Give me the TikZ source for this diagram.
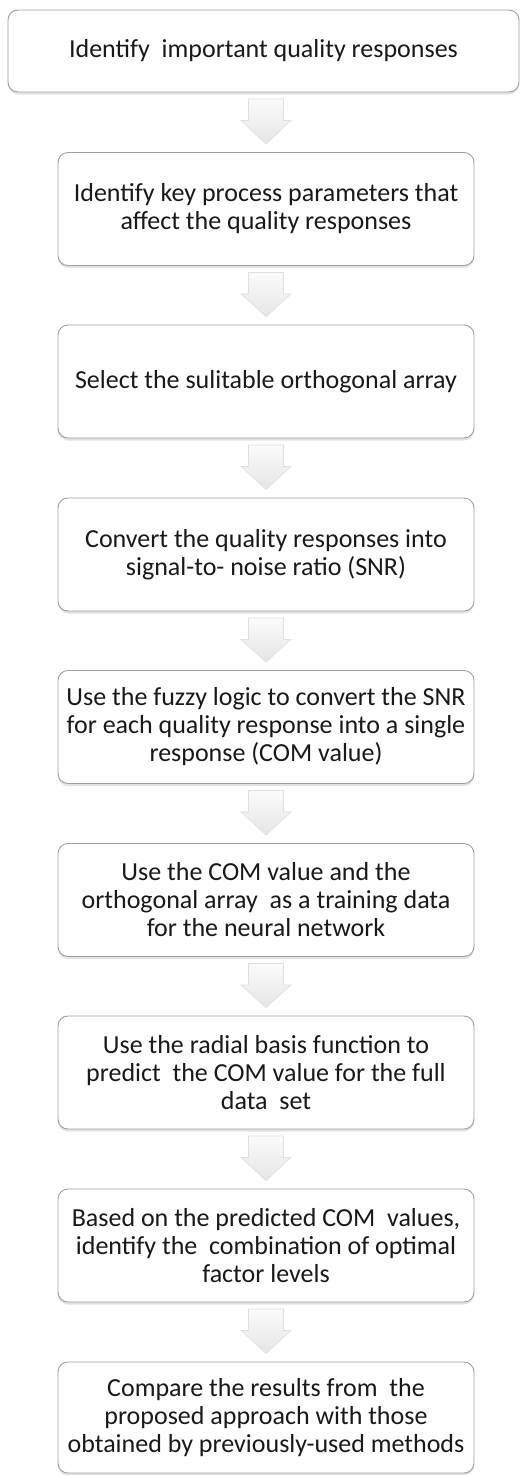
\documentclass[tikz,border=0pt]{standalone}
\usepackage{fontspec}
\setmainfont{Carlito}
\usetikzlibrary{shadows,calc}
\tikzset{
  stepbox/.style={draw=gray!75, line width=0.9pt, fill=white, rounded corners=10pt,
    minimum width=416pt, minimum height=113pt, align=center, text=black!90,
    font=\fontsize{26}{28}\selectfont, inner sep=0pt,
    drop shadow={shadow xshift=0pt, shadow yshift=-2.5pt, opacity=0.22}},
  blockarrow/.style={draw=gray!25, line width=0.6pt, top color=gray!3, bottom color=gray!20},
}
\newcommand{\flowarr}[2]{%
  \path[blockarrow] ($(#1.south -| #2.north)+(-17.5,6.5)$) -- ($(#1.south -| #2.north)+(17.5,6.5)$)
    -- ($(#1.south -| #2.north)+(17.5,28)$) -- ($(#1.south -| #2.north)+(25,28)$)
    -- ($(#2.north)+(0,-8)$)
    -- ($(#1.south -| #2.north)+(-25,28)$) -- ($(#1.south -| #2.north)+(-17.5,28)$) -- cycle;}
\begin{document}
\begin{tikzpicture}[x=1pt,y=-1pt]
\useasboundingbox (0,0) rectangle (520,1475);
\node[stepbox, minimum width=511pt, minimum height=82pt] (b1) at (263.5,51) {Identify\ \ important quality responses};
\node[stepbox] (b2) at (266,209) {Identify key process parameters that\\affect the quality responses};
\node[stepbox] (b3) at (266,381.5) {Select the sulitable orthogonal array};
\node[stepbox] (b4) at (266,554.5) {Convert the quality responses into\\signal-to-\ noise ratio (SNR)};
\node[stepbox] (b5) at (266,727) {Use the fuzzy logic to convert the SNR\\for each quality response into a single\\response (COM value)};
\node[stepbox] (b6) at (266,900) {Use the COM value and the\\orthogonal array\ \ as a training data\\for the neural network};
\node[stepbox] (b7) at (266,1072.5) {Use the radial basis function to\\predict\ \ the COM value for the full\\data\ \ set};
\node[stepbox] (b8) at (266,1245.5) {Based on the predicted COM\ \ values,\\identify the\ \ combination of optimal\\factor levels};
\node[stepbox, minimum height=111pt] (b9) at (266,1417.5) {Compare the results from\ \ the\\proposed approach with those\\obtained by previously-used methods};
\flowarr{b1}{b2}
\flowarr{b2}{b3}
\flowarr{b3}{b4}
\flowarr{b4}{b5}
\flowarr{b5}{b6}
\flowarr{b6}{b7}
\flowarr{b7}{b8}
\flowarr{b8}{b9}
\end{tikzpicture}
\end{document}
